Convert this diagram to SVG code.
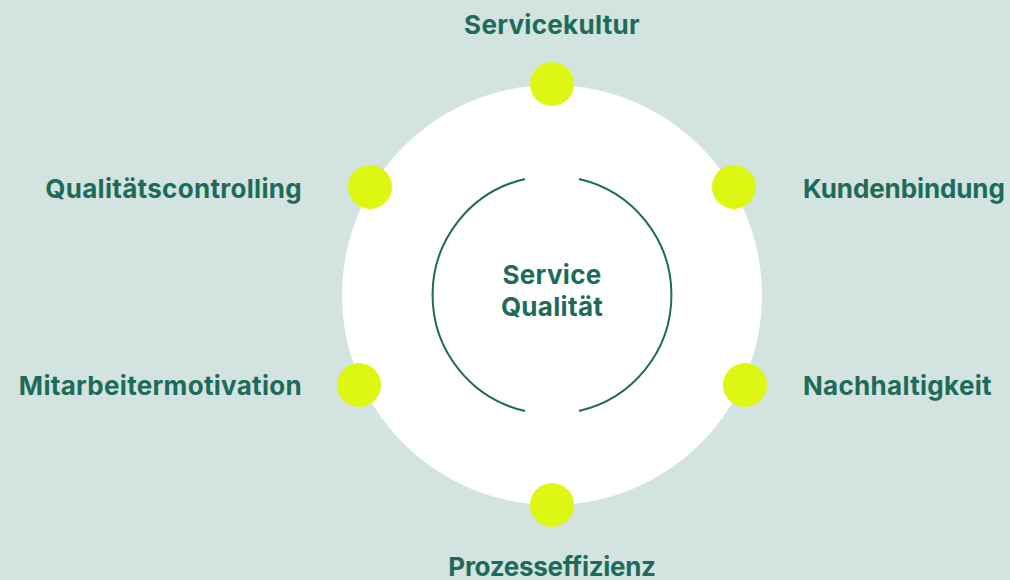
<svg xmlns="http://www.w3.org/2000/svg" width="1010" height="580" viewBox="0 0 1010 580">
<style>
.lbl{font-family:Inter,"Noto Sans","Liberation Sans",sans-serif;font-weight:700;font-size:26px;letter-spacing:0.3px;fill:#1d6b5b}
.tight{letter-spacing:-0.1px}
.tighter{letter-spacing:-0.3px}
.dot{fill:#ddf712}
.arc{fill:none;stroke:#1d6b5b;stroke-width:2}
</style>
<rect width="1010" height="580" fill="#d3e3e0"/>
<circle id="ring" cx="552" cy="295" r="210" fill="#ffffff"/>
<g id="connectors">
<path class="arc" d="M579 179 A119 119 0 0 1 579 411"/>
<path class="arc" d="M525 179 A119 119 0 0 0 525 411"/>
</g>
<g id="center"><text class="lbl" x="552" y="284" text-anchor="middle">Service</text><text class="lbl" x="552" y="316" text-anchor="middle">Qualität</text></g>
<g id="n-servicekultur"><circle class="dot" cx="552" cy="84" r="22"/><text class="lbl" x="552" y="34" text-anchor="middle">Servicekultur</text></g>
<g id="n-kundenbindung"><circle class="dot" cx="734" cy="187" r="22"/><text class="lbl tight" x="803" y="197.5">Kundenbindung</text></g>
<g id="n-nachhaltigkeit"><circle class="dot" cx="745" cy="385" r="22"/><text class="lbl" x="803" y="395">Nachhaltigkeit</text></g>
<g id="n-prozesseffizienz"><circle class="dot" cx="552" cy="505" r="22"/><text class="lbl tighter" x="552" y="576" text-anchor="middle">Prozesseffizienz</text></g>
<g id="n-mitarbeitermotivation"><circle class="dot" cx="359" cy="385" r="22"/><text class="lbl" x="302" y="395" text-anchor="end">Mitarbeitermotivation</text></g>
<g id="n-qualitaetscontrolling"><circle class="dot" cx="370" cy="187" r="22"/><text class="lbl" x="302" y="197.5" text-anchor="end">Qualitätscontrolling</text></g>
</svg>
